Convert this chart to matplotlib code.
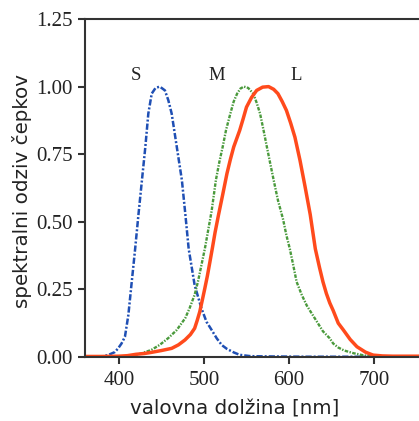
import matplotlib
matplotlib.use("Agg")
import matplotlib.pyplot as plt

# valovne dolžine [nm] in odzivi čepkov (odčitano s slike)
s_nm = [360, 380, 387, 395, 399, 403, 407, 411, 415, 419, 423, 427, 431, 434.5, 438.5,
        443, 448, 454, 458, 462, 468, 474, 478, 482, 489, 497, 503, 509, 515, 521,
        527, 535, 542, 555, 580, 620, 700, 753]
s_val = [0.0, 0.002, 0.007, 0.018, 0.032, 0.05, 0.075, 0.155, 0.278, 0.40, 0.53, 0.654,
         0.777, 0.90, 0.974, 0.995, 1.0, 0.986, 0.95, 0.90, 0.777, 0.654, 0.53, 0.40,
         0.266, 0.18, 0.13, 0.10, 0.069, 0.044, 0.03, 0.017, 0.008, 0.003, 0.002,
         0.001, 0.001, 0.001]

m_nm = [360, 400, 410, 425, 438, 448, 458, 468, 478, 483, 489, 493, 497, 501, 505, 509,
        514, 518, 522, 526, 531, 535, 539, 543, 547, 552, 558, 562, 566, 570, 574, 578,
        582, 587, 593, 597, 601, 605, 609, 615, 621, 627, 633, 640, 648, 652, 658, 665,
        676, 688, 699, 710, 753]
m_val = [0.0, 0.0, 0.003, 0.012, 0.026, 0.045, 0.07, 0.10, 0.144, 0.18, 0.23, 0.28, 0.34,
         0.40, 0.47, 0.54, 0.654, 0.72, 0.777, 0.84, 0.90, 0.945, 0.974, 0.993, 1.0,
         0.995, 0.974, 0.94, 0.90, 0.84, 0.777, 0.715, 0.654, 0.58, 0.51, 0.45, 0.40,
         0.34, 0.278, 0.23, 0.19, 0.16, 0.13, 0.095, 0.069, 0.05, 0.035, 0.024, 0.014,
         0.006, 0.002, 0.0, 0.0]

l_nm = [360, 380, 400, 410, 420, 430, 438, 450, 462, 470, 477.6, 484, 489, 492, 495, 498,
        501, 504, 507, 510, 513, 517, 522, 527, 531, 535, 542, 546, 550, 556, 562, 569,
        576, 582, 587, 592, 597, 602, 607, 613, 619, 625, 631, 636, 640, 644, 648, 652,
        658, 664, 672, 680, 690, 699, 710, 722, 753]
l_val = [0.002, 0.002, 0.003, 0.005, 0.01, 0.013, 0.017, 0.024, 0.032, 0.045, 0.063,
         0.083, 0.106, 0.135, 0.167, 0.21, 0.254, 0.30, 0.352, 0.405, 0.46, 0.524, 0.60,
         0.678, 0.73, 0.777, 0.838, 0.88, 0.924, 0.96, 0.986, 0.998, 1.0, 0.99, 0.974,
         0.945, 0.912, 0.865, 0.813, 0.727, 0.629, 0.527, 0.40, 0.33, 0.278, 0.235, 0.2,
         0.172, 0.125, 0.10, 0.065, 0.038, 0.018, 0.007, 0.004, 0.003, 0.003]

x_ticks = [400, 500, 600, 700]
y_ticks = [0.0, 0.25, 0.5, 0.75, 1.0, 1.25]

fig = plt.figure(figsize=(4.19, 4.21), dpi=100)
ax = fig.add_axes([85 / 419, 64 / 421, 334 / 419, 338 / 421])

ax.plot(s_nm, s_val, color="#1f4fb4", lw=1.8, dashes=(2.5, 0.8, 0.8, 0.8))
ax.plot(m_nm, m_val, color="#4a9a3c", lw=1.7, dashes=(1.5, 0.6, 0.6, 0.6))
ax.plot(l_nm, l_val, color="#ff4a1c", lw=2.5)

serif = "Liberation Serif"
ax.text(420, 1.04, "S", fontsize=13.5, family=serif, color="#222222", ha="center", va="center")
ax.text(515, 1.04, "M", fontsize=13.5, family=serif, color="#222222", ha="center", va="center")
ax.text(608, 1.04, "L", fontsize=13.5, family=serif, color="#222222", ha="center", va="center")

ax.set_xlim(360, 753)
ax.set_ylim(0, 1.25)
ax.set_xticks(x_ticks)
ax.set_yticks(y_ticks)
ax.set_yticklabels([f"{v:.2f}" for v in y_ticks])
for lab in ax.get_xticklabels() + ax.get_yticklabels():
    lab.set_family(serif)
    lab.set_fontsize(15)
    lab.set_color("#222222")
ax.tick_params(direction="out", length=5, width=1.5, color="#333333")
ax.tick_params(axis="x", pad=5)
ax.tick_params(axis="y", pad=4)

ax.spines["right"].set_visible(False)
for sp in ["left", "bottom", "top"]:
    ax.spines[sp].set_linewidth(1.5)
    ax.spines[sp].set_color("#333333")

ax.set_xlabel("valovna dolžina [nm]", fontsize=14.3, family="DejaVu Sans", color="#222222")
ax.xaxis.set_label_coords(0.449, -0.125)
ax.set_ylabel("spektralni odziv čepkov", fontsize=14.3, family="DejaVu Sans", color="#222222")
ax.yaxis.set_label_coords(-0.16, 0.49)

fig.savefig("out.png", dpi=100)
